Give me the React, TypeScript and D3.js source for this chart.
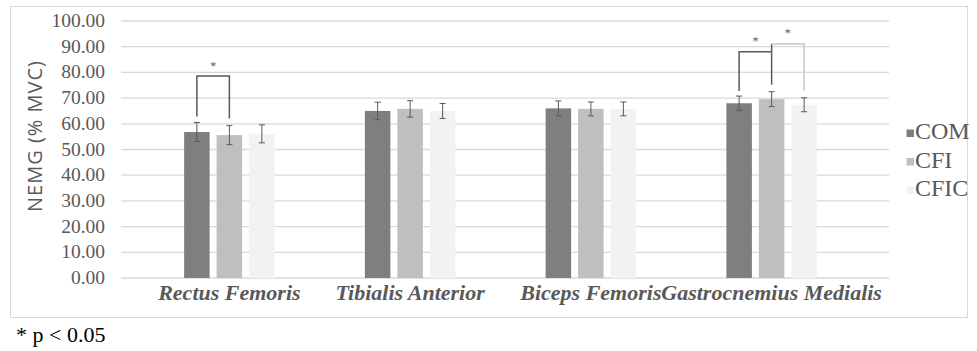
import React from "react";
import * as d3 from "d3";

const categories = ["Rectus Femoris", "Tibialis Anterior", "Biceps Femoris", "Gastrocnemius Medialis"];
const seriesNames = ["COM", "CFI", "CFIC"];
const seriesColors = ["#7f7f7f", "#bfbfbf", "#f2f2f2"];
const comValues = [56.8, 65.0, 66.0, 68.0];
const cfiValues = [55.6, 65.8, 65.8, 69.6];
const cficValues = [56.1, 65.0, 65.8, 67.4];
const comErr = [3.7, 3.4, 2.9, 2.8];
const cfiErr = [3.7, 3.2, 2.7, 2.9];
const cficErr = [3.5, 2.9, 2.7, 2.7];
const yTicks = [0, 10, 20, 30, 40, 50, 60, 70, 80, 90, 100];
const yTitle = "NEMG (% MVC)";
const footnote = "* p < 0.05";

const W = 977;
const H = 351;

export default function App() {
  const values = [comValues, cfiValues, cficValues];
  const errs = [comErr, cfiErr, cficErr];
  const y = d3.scaleLinear().domain([0, 100]).range([278, 21]);
  const x = d3.scaleBand<string>().domain(categories).range([139, 862]);
  const inner = d3.scaleBand<string>().domain(seriesNames).range([0, 90.5]).paddingInner(0.215);
  const groupOffset = (x.bandwidth() - 90.5) / 2;
  const bx = (ci: number, si: number) =>
    (x(categories[ci]) as number) + groupOffset + (inner(seriesNames[si]) as number);
  const bw = inner.bandwidth();
  const cx = (ci: number, si: number) => bx(ci, si) + bw / 2;
  const dark = "#595959";
  const serif = "'Liberation Serif', 'Times New Roman', serif";

  const topOf = (ci: number, si: number) => y(values[si][ci] + errs[si][ci]);

  return (
    <svg width={W} height={H} style={{ position: "absolute", left: 0, top: 0, background: "#fff" }}>
      <rect x={10.5} y={6.5} width={957} height={311} fill="#fff" stroke="#d9d9d9" strokeWidth={1} />
      {yTicks.map((t) => (
        <g key={t}>
          <line x1={121} x2={889} y1={y(t)} y2={y(t)} stroke="#d9d9d9" strokeWidth={1.3} />
          <text x={105} y={y(t) + 6} textAnchor="end" fontFamily={serif} fontSize={19.5} fill={dark}>
            {t.toFixed(2)}
          </text>
        </g>
      ))}
      <text
        transform={`translate(42,136) rotate(-90)`}
        textAnchor="middle"
        fontFamily="'Open Sans', 'DejaVu Sans', sans-serif"
        fontSize={20}
        letterSpacing={1}
        fill={dark}
      >
        {yTitle}
      </text>
      {categories.map((c, ci) => (
        <g key={c}>
          {seriesNames.map((s, si) => {
            const v = values[si][ci];
            const e = errs[si][ci];
            const xc = cx(ci, si);
            return (
              <g key={s}>
                <rect x={bx(ci, si)} y={y(v)} width={bw} height={y(0) - y(v)} fill={seriesColors[si]} />
                <line x1={xc} x2={xc} y1={y(v + e)} y2={y(v - e)} stroke={dark} strokeWidth={1} />
                <line x1={xc - 3} x2={xc + 3} y1={y(v + e)} y2={y(v + e)} stroke={dark} strokeWidth={1} />
                <line x1={xc - 3} x2={xc + 3} y1={y(v - e)} y2={y(v - e)} stroke={dark} strokeWidth={1} />
              </g>
            );
          })}
          <text
            x={(x(c) as number) + x.bandwidth() / 2}
            y={300}
            textAnchor="middle"
            fontFamily={serif}
            fontStyle="italic"
            fontWeight="bold"
            fontSize={22}
            fill={dark}
          >
            {c}
          </text>
        </g>
      ))}
      {/* Rectus Femoris: COM vs CFI */}
      <path
        d={`M${cx(0, 0)},${topOf(0, 0) - 6} V76 H${cx(0, 1)} V${topOf(0, 1) - 7}`}
        fill="none"
        stroke={dark}
        strokeWidth={1.5}
      />
      <text x={(cx(0, 0) + cx(0, 1)) / 2} y={70} textAnchor="middle" fontFamily={serif} fontSize={12} fill={dark}>
        *
      </text>
      {/* Gastrocnemius: COM vs CFI */}
      <path
        d={`M${cx(3, 0)},${topOf(3, 0) - 5} V51.7 H${cx(3, 1)}`}
        fill="none"
        stroke={dark}
        strokeWidth={1.5}
      />
      <line x1={cx(3, 1)} x2={cx(3, 1)} y1={44} y2={topOf(3, 1) - 7} stroke={dark} strokeWidth={1.5} />
      <text x={(cx(3, 0) + cx(3, 1)) / 2} y={45} textAnchor="middle" fontFamily={serif} fontSize={12} fill={dark}>
        *
      </text>
      {/* Gastrocnemius: CFI vs CFIC */}
      <path
        d={`M${cx(3, 1)},44 H${cx(3, 2)} V${topOf(3, 2) - 7}`}
        fill="none"
        stroke="#c8c8c8"
        strokeWidth={1.5}
      />
      <text x={(cx(3, 1) + cx(3, 2)) / 2} y={37} textAnchor="middle" fontFamily={serif} fontSize={12} fill={dark}>
        *
      </text>
      {seriesNames.map((s, si) => (
        <g key={s}>
          <rect x={906.5} y={129.5 + si * 28.5} width={7.5} height={7.5} fill={seriesColors[si]} />
          <text x={915} y={139 + si * 28.5} fontFamily={serif} fontSize={24} fill={dark}>
            {s}
          </text>
        </g>
      ))}
      <text x={16} y={342} fontFamily={serif} fontSize={22} fill="#000">
        {footnote}
      </text>
    </svg>
  );
}
